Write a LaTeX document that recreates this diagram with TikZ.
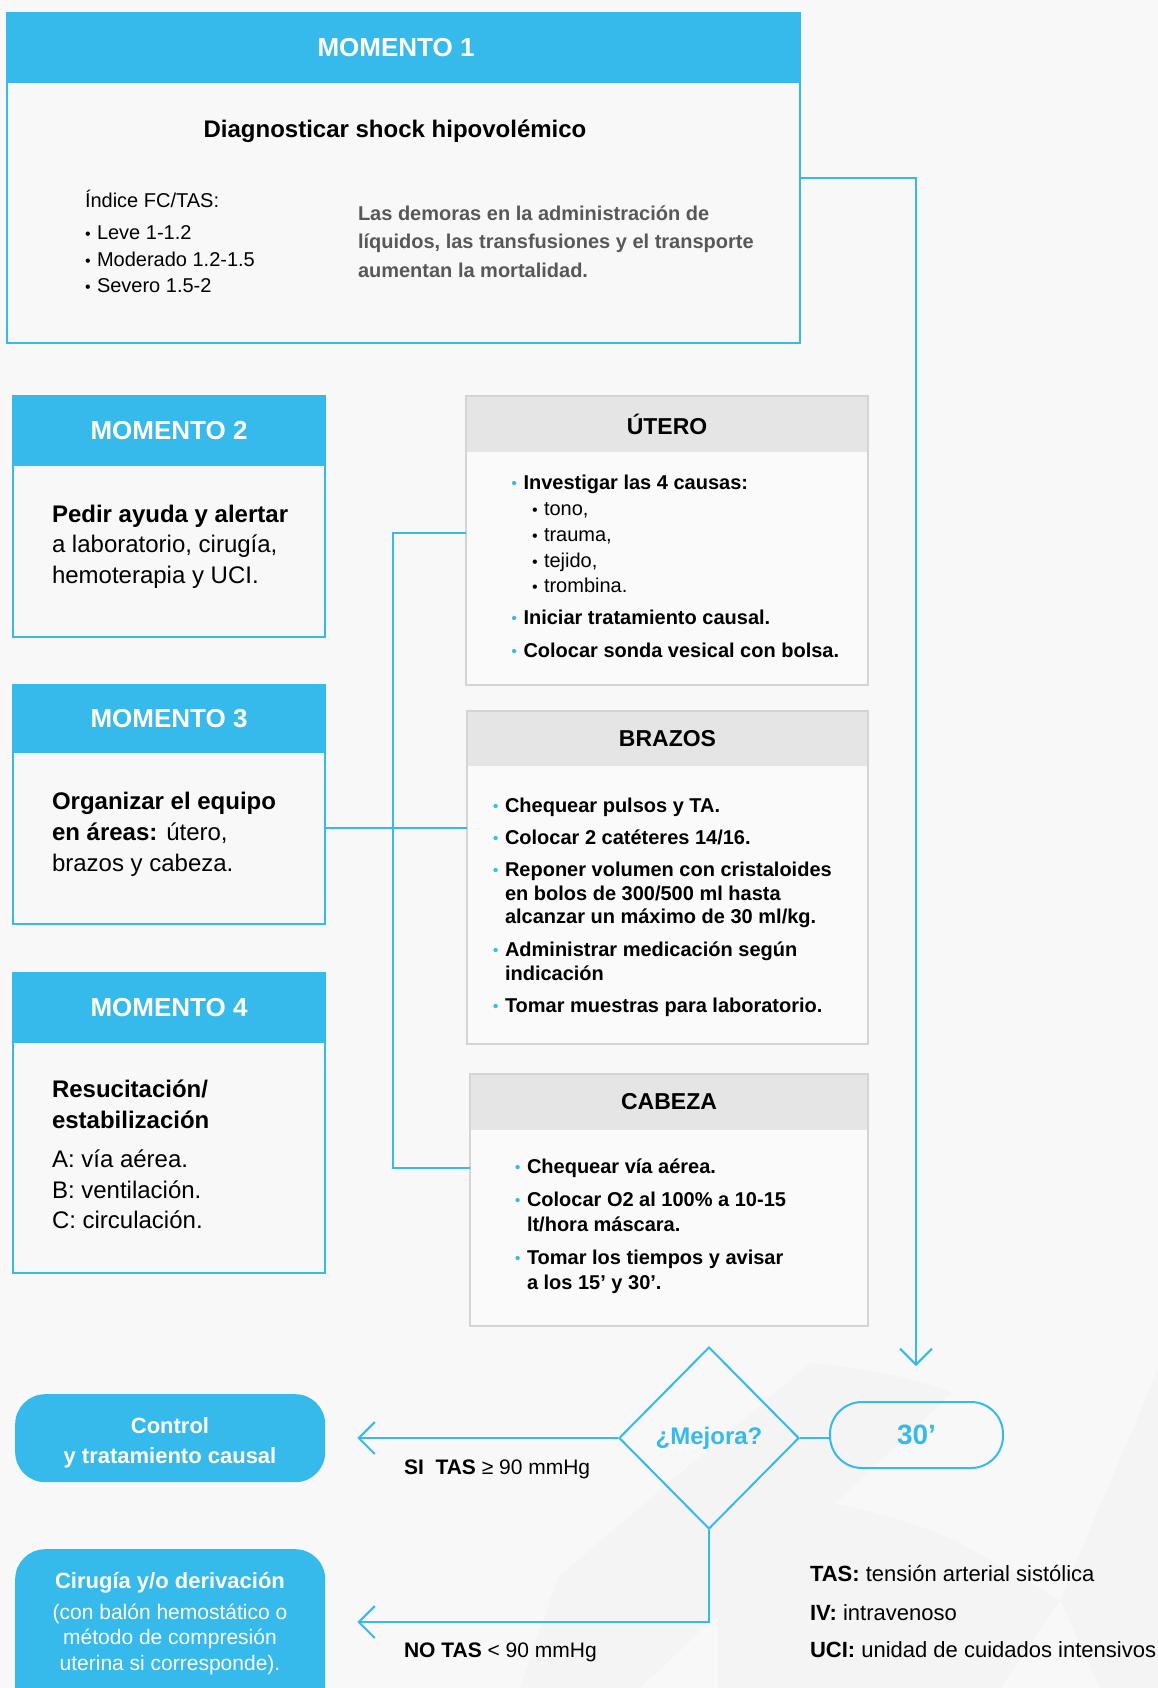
\documentclass[tikz,border=0pt]{standalone}
\usepackage{fontspec}
\setmainfont{Liberation Sans}
\usetikzlibrary{arrows.meta,shapes.geometric,calc}
\definecolor{mblue}{RGB}{53,186,235}
\definecolor{bgc}{RGB}{248,248,248}
\definecolor{bgshape}{RGB}{244,244,244}
\definecolor{gborder}{RGB}{212,212,212}
\definecolor{gheadc}{RGB}{229,229,229}
\definecolor{gbody}{RGB}{250,250,250}
\definecolor{tgray}{RGB}{88,88,88}
\newcommand{\myfs}[1]{\fontsize{#1}{#1}\selectfont}
\newcommand{\bdot}{\makebox[12pt][l]{\textcolor{mblue}{\raisebox{1pt}{\scalebox{0.75}{\textbullet}}}}}
\newcommand{\sbul}{\makebox[12pt][l]{\scalebox{0.8}{\textbullet}}}
\tikzset{
  mbox/.style={draw=mblue, line width=2pt, fill=bgc, anchor=north west, inner sep=0pt, outer sep=0pt},
  mhead/.style={fill=mblue, anchor=north west, inner sep=0pt, outer sep=0pt, text=white, font=\myfs{26}\bfseries},
  gbox/.style={draw=gborder, line width=2pt, fill=gbody, anchor=north west, inner sep=0pt, outer sep=0pt},
  ghead/.style={fill=gheadc, anchor=north west, inner sep=0pt, outer sep=0pt, font=\myfs{23}\bfseries},
  txt/.style={anchor=base west, inner sep=0pt, outer sep=0pt},
  b20/.style={txt, font=\myfs{20}\bfseries},
  r20/.style={txt, font=\myfs{20}},
  r24/.style={txt, font=\myfs{24}},
  wtxt/.style={txt, anchor=base, text=white},
  conn/.style={draw=mblue, line width=2pt},
  barb/.style={-{Straight Barb[length=16pt,width=32pt]}},
  pillbox/.style={fill=mblue, rounded corners=30pt, anchor=north west, inner sep=0pt},
}
\begin{document}
\begin{tikzpicture}[x=1pt,y=-1pt]
\useasboundingbox (0,0) rectangle (1158,1688);
\clip (0,0) rectangle (1158,1688);
\fill[bgc] (0,0) rectangle (1158,1688);
% faint background shapes
\fill[bgshape] (810,1363) .. controls (870,1368) and (920,1380) .. (952,1393) -- (640,1688) -- (520,1688) -- (558,1577) -- cycle;
\fill[bgshape] (718,1490) .. controls (820,1495) and (900,1515) .. (960,1543) -- (1060,1600) -- (1000,1688) -- (718,1688) -- cycle;
\fill[bgshape] (1158,1370) -- (1158,1688) -- (1100,1688) -- (1060,1600) -- cycle;

% MOMENTO 1
\node[mbox, minimum width=793pt, minimum height=330pt] (m1) at (7,13) {};
\node[mhead, minimum width=793pt, minimum height=70pt] (m1h) at (7,13) {};
\node[txt, anchor=base, text=white, font=\myfs{26}\bfseries] (m1ht) at (396,57) {MOMENTO 1};
\node[txt, anchor=base, font=\myfs{24}\bfseries] (m1t) at (395,138) {Diagnosticar shock hipovolémico};
\node[r20] (m1a) at (85,208) {Índice FC/TAS:};
\node[r20] (m1b) at (85,240) {\sbul Leve 1-1.2};
\node[r20] (m1c) at (85,266) {\sbul Moderado 1.2-1.5};
\node[r20] (m1d) at (85,292) {\sbul Severo 1.5-2};
\node[b20, text=tgray] (m1e) at (358,221) {Las demoras en la administración de};
\node[b20, text=tgray] (m1f) at (358,249) {líquidos, las transfusiones y el transporte};
\node[b20, text=tgray] (m1g) at (358,277) {aumentan la mortalidad.};

% MOMENTO 2
\node[mbox, minimum width=312pt, minimum height=241pt] (m2) at (13,396) {};
\node[mhead, minimum width=312pt, minimum height=70pt] (m2h) at (13,396) {MOMENTO 2};
\node[r24] (m2a) at (52,522) {\textbf{Pedir ayuda y alertar}};
\node[r24] (m2b) at (52,552) {a laboratorio, cirugía,};
\node[r24] (m2c) at (52,583) {hemoterapia y UCI.};

% MOMENTO 3
\node[mbox, minimum width=312pt, minimum height=239pt] (m3) at (13,685) {};
\node[mhead, minimum width=312pt, minimum height=68pt] (m3h) at (13,685) {MOMENTO 3};
\node[r24] (m3a) at (52,809) {\textbf{Organizar el equipo}};
\node[r24] (m3b) at (52,840) {\textbf{en áreas:} útero,};
\node[r24] (m3c) at (52,871) {brazos y cabeza.};

% MOMENTO 4
\node[mbox, minimum width=312pt, minimum height=300pt] (m4) at (13,973) {};
\node[mhead, minimum width=312pt, minimum height=70pt] (m4h) at (13,973) {MOMENTO 4};
\node[r24] (m4a) at (52,1097) {\textbf{Resucitación/}};
\node[r24] (m4b) at (52,1128) {\textbf{estabilización}};
\node[r24] (m4c) at (52,1167) {A: vía aérea.};
\node[r24] (m4d) at (52,1198) {B: ventilación.};
\node[r24] (m4e) at (52,1228) {C: circulación.};

% UTERO
\node[gbox, minimum width=402pt, minimum height=289pt] (ut) at (466,396) {};
\node[ghead, minimum width=402pt, minimum height=56pt] (uth) at (466,396) {ÚTERO};
\draw[gborder, line width=2pt] (ut.north west) rectangle (ut.south east);
\node[b20] (ut1) at (511.5,489) {\bdot Investigar las 4 causas:};
\node[r20] (ut2) at (532,515) {\sbul tono,};
\node[r20] (ut3) at (532,541) {\sbul trauma,};
\node[r20] (ut4) at (532,567) {\sbul tejido,};
\node[r20] (ut5) at (532,592) {\sbul trombina.};
\node[b20] (ut6) at (511.5,624) {\bdot Iniciar tratamiento causal.};
\node[b20] (ut7) at (511.5,657) {\bdot Colocar sonda vesical con bolsa.};

% BRAZOS
\node[gbox, minimum width=401pt, minimum height=333pt] (br) at (467,711) {};
\node[ghead, minimum width=401pt, minimum height=55pt] (brh) at (467,711) {BRAZOS};
\draw[gborder, line width=2pt] (br.north west) rectangle (br.south east);
\node[b20] (br1) at (493,812) {\bdot Chequear pulsos y TA.};
\node[b20] (br2) at (493,844) {\bdot Colocar 2 catéteres 14/16.};
\node[b20] (br3) at (493,876) {\bdot Reponer volumen con cristaloides};
\node[b20] (br4) at (505,900) {en bolos de 300/500 ml hasta};
\node[b20] (br5) at (505,923) {alcanzar un máximo de 30 ml/kg.};
\node[b20] (br6) at (493,956) {\bdot Administrar medicación según};
\node[b20] (br7) at (505,980) {indicación};
\node[b20] (br8) at (493,1012) {\bdot Tomar muestras para laboratorio.};

% CABEZA
\node[gbox, minimum width=398pt, minimum height=252pt] (cab) at (470,1074) {};
\node[ghead, minimum width=398pt, minimum height=56pt] (cabh) at (470,1074) {CABEZA};
\draw[gborder, line width=2pt] (cab.north west) rectangle (cab.south east);
\node[b20] (cb1) at (515,1173) {\bdot Chequear vía aérea.};
\node[b20] (cb2) at (515,1206) {\bdot Colocar O2 al 100\% a 10-15};
\node[b20] (cb3) at (527,1231) {lt/hora máscara.};
\node[b20] (cb4) at (515,1264) {\bdot Tomar los tiempos y avisar};
\node[b20] (cb5) at (527,1289) {a los 15’ y 30’.};

% connectors between areas
\coordinate (jU) at (393,533);
\coordinate (jC) at (393,1168);
\coordinate (jB) at (393,828);
\draw[conn] (ut.west |- jU) -- (jU) -- (jC) -- (cab.west |- jC);
\draw[conn] (m3.east |- jB) -- (br.west |- jB);

% decision
\node[diamond, draw=mblue, line width=2pt, minimum width=180pt, minimum height=182pt, inner sep=0pt, text=mblue, font=\myfs{24}\bfseries] (dia) at (709,1438) {¿Mejora?};
\node[draw=mblue, line width=2pt, rounded corners=32pt, minimum width=173pt, minimum height=66pt, inner sep=0pt, text=mblue, font=\myfs{28}\bfseries] (p30) at (916.5,1435) {30’};
\coordinate (tip30) at (916,1366);
\draw[conn, barb] (m1.east) -| (tip30);
\draw[conn] (dia.east) -- (dia.east -| p30.west);

% outcomes
\node[pillbox, minimum width=310pt, minimum height=88pt] (ctrl) at (15,1394) {};
\node[wtxt, font=\myfs{22}\bfseries] (ctrla) at (170,1433) {Control};
\node[wtxt, font=\myfs{22}\bfseries] (ctrlb) at (170,1463) {y tratamiento causal};
\node[pillbox, minimum width=310pt, minimum height=180pt] (cir) at (15,1549) {};
\node[wtxt, font=\myfs{22}\bfseries] (cira) at (170,1588) {Cirugía y/o derivación};
\node[wtxt, font=\myfs{21}] (cirb) at (170,1619) {(con balón hemostático o};
\node[wtxt, font=\myfs{21}] (circ) at (170,1644) {método de compresión};
\node[wtxt, font=\myfs{21}] (cird) at (170,1670) {uterina si corresponde).};

\draw[conn, barb] (dia.west) -- ([xshift=32pt]ctrl.east |- dia.west);
\coordinate (jN) at (709,1622);
\draw[conn, barb] (dia.south) -- (jN) -- ([xshift=32pt]cir.east |- jN);

\node[txt, font=\myfs{21}] (si) at (404,1474) {\textbf{SI\ \ TAS} ≥ 90 mmHg};
\node[txt, font=\myfs{21}] (no) at (404,1657) {\textbf{NO TAS} < 90 mmHg};

% legend
\node[txt, font=\myfs{22}] (lg1) at (810,1581) {\textbf{TAS:} tensión arterial sistólica};
\node[txt, font=\myfs{22}] (lg2) at (810,1620) {\textbf{IV:} intravenoso};
\node[txt, font=\myfs{22}] (lg3) at (810,1657) {\textbf{UCI:} unidad de cuidados intensivos};
\end{tikzpicture}
\end{document}
